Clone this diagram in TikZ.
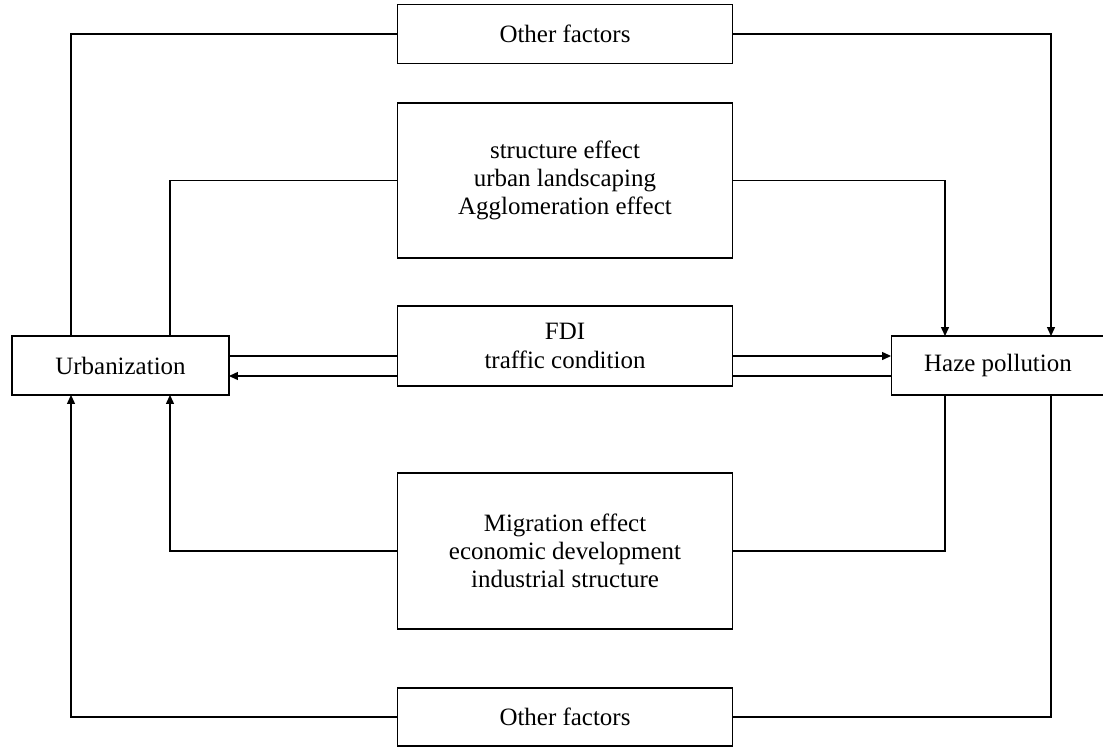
\documentclass[tikz,border=0pt]{standalone}
\usepackage{fontspec}
\setmainfont{Liberation Serif}
\usetikzlibrary{arrows.meta, positioning}

\begin{document}
\begin{tikzpicture}[x=0.02cm, y=-0.02cm, line width=0.6pt,
    every node/.style={draw, inner sep=0pt, outer sep=0pt, align=center, font=\fontsize{14.2}{16}\selectfont},
    factorbox/.style={minimum width=6.72cm},
    arr/.style={-{Triangle[length=5pt,width=4.5pt]}}]
    \useasboundingbox (0,0) rectangle (1103,747);
    % end nodes
    \node[minimum width=4.34cm, minimum height=1.18cm] at (120.5,365.5) (urban) {Urbanization};
    \node[minimum width=4.28cm, minimum height=1.18cm] at (998,365.5) (haze) {Haze pollution};
    % channels
    \node[factorbox, minimum height=1.18cm] at (565,34) (othertop) {Other factors};
    \node[factorbox, minimum height=3.1cm] at (565,180.5) (structure) {structure effect\\urban landscaping\\Agglomeration effect};
    \node[factorbox, minimum height=1.6cm] at (565,346) (fdi) {FDI\\traffic condition};
    \node[factorbox, minimum height=3.12cm] at (565,551) (migration) {Migration effect\\economic development\\industrial structure};
    \node[factorbox, minimum height=1.16cm] at (565,717) (otherbot) {Other factors};

    % attachment points
    \coordinate (u1) at (71,336);   \coordinate (u2) at (170,336);
    \coordinate (u3) at (71,395);   \coordinate (u4) at (170,395);
    \coordinate (h1) at (945,336);  \coordinate (h2) at (1051,336);
    \coordinate (h3) at (945,395);  \coordinate (h4) at (1051,395);
    \coordinate (ua) at (229,356);  \coordinate (ub) at (229,376);
    \coordinate (ha) at (891,356);  \coordinate (hb) at (891,376);
    \coordinate (fa) at (397,356);  \coordinate (fb) at (397,376);
    \coordinate (fc) at (733,356);  \coordinate (fd) at (733,376);

    \foreach \from/\to in {othertop.west/u1, structure.west/u2}
        \draw (\from) -| (\to);
    \foreach \from/\to in {othertop.east/h2, structure.east/h1}
        \draw[arr] (\from) -| (\to);
    \foreach \from/\to in {otherbot.west/u3, migration.west/u4}
        \draw[arr] (\from) -| (\to);
    \foreach \from/\to in {h4/otherbot.east, h3/migration.east}
        \draw (\from) |- (\to);

    \draw (ua) -- (fa);
    \draw[arr] (fb) -- (ub);
    \draw[arr] (fc) -- (ha);
    \draw (hb) -- (fd);
\end{tikzpicture}
\end{document}
